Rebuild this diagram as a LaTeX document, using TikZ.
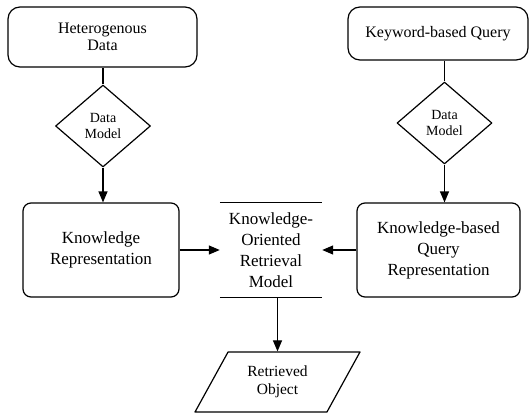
\documentclass[tikz,border=0pt]{standalone}
\usepackage{fontspec}
\setmainfont{Liberation Serif}
\usetikzlibrary{arrows.meta,shapes.geometric}
\tikzset{
  every picture/.style={line join=round, >={Triangle[length=11pt,width=9pt]}},
  flow/.style={line width=1.2pt},
  srcbox/.style={draw, line width=1.2pt, rounded corners=12pt, align=center, font=\fontsize{16}{17}\selectfont},
  repbox/.style={draw, line width=1.2pt, rounded corners=8pt, align=center, minimum height=94pt, font=\fontsize{17}{21}\selectfont},
  modeldiamond/.style={draw, diamond, line width=1.2pt, inner sep=0pt, minimum width=95pt, minimum height=82pt, align=center, font=\fontsize{14}{16}\selectfont},
  storebox/.style={align=center, minimum width=102pt, minimum height=94pt, font=\fontsize{17}{21}\selectfont},
  outbox/.style={draw, trapezium, trapezium left angle=60, trapezium right angle=120, trapezium stretches=true, line width=1.2pt, minimum width=165pt, minimum height=60pt, align=center, font=\fontsize{15.5}{18}\selectfont},
}

\begin{document}
\begin{tikzpicture}[x=1pt,y=-1pt]
\useasboundingbox (0,0) rectangle (531,413);
\node[srcbox, minimum width=189pt, minimum height=60pt] (data) at (102.5,37) {Heterogenous\\Data};
\node[srcbox, minimum width=180pt, minimum height=53pt] (query) at (438,33.5) {Keyword-based Query};
\node[modeldiamond] (dm1) at (103,126) {Data\\Model};
\node[modeldiamond] (dm2) at (444.5,123) {Data\\Model};
\node[repbox, minimum width=156pt] (krep) at (101,250) {Knowledge\\Representation};
\node[storebox] (korm) at (271,250) {Knowledge-\\Oriented\\Retrieval\\Model};
\node[repbox, minimum width=163pt] (kqr) at (438.5,250) {Knowledge-based\\Query\\Representation};
\node[outbox] (robj) at (277.5,382) {Retrieved\\Object};
\draw[flow] (korm.north west) -- (korm.north east);
\draw[flow] (korm.south west) -- (korm.south east);
\draw[flow] (dm1.north) -- (dm1.north |- data.south);
\draw[flow] (dm2.north) -- (dm2.north |- query.south);
\draw[flow,->] (dm1.south) -- (dm1.south |- krep.north);
\draw[flow,->] (dm2.south) -- (dm2.south |- kqr.north);
\draw[flow,->] (krep.east) -- (korm.west);
\draw[flow,->] (kqr.west) -- (korm.east);
\draw[flow,->] (robj.north |- korm.south) -- (robj.north);
\end{tikzpicture}
\end{document}
